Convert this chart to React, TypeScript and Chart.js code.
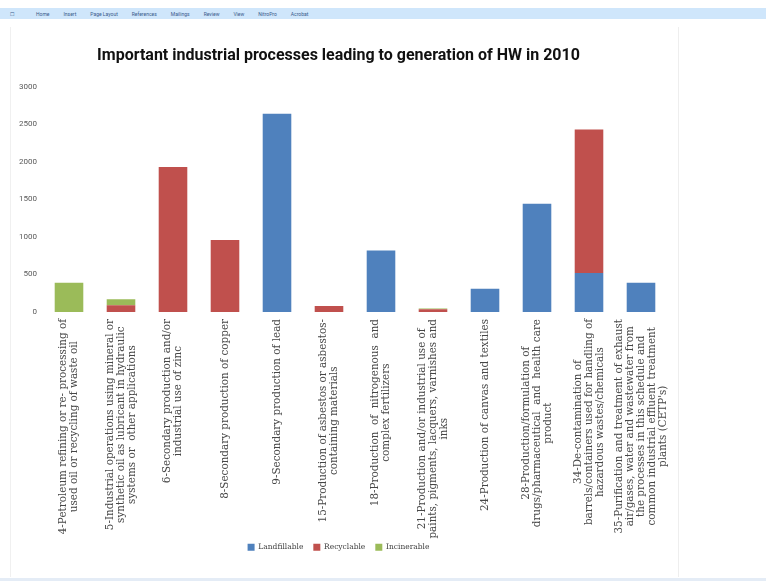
import React, { useEffect, useRef } from "react";
import { Chart, registerables } from "chart.js";

Chart.register(...registerables);

const TITLE = "Important industrial processes leading to generation of HW in 2010";

const categories: string[][] = [
  ["4-Petroleum refining or re- processing of", "used oil or recycling of waste oil"],
  ["5-Industrial operations using mineral or", "synthetic oil as lubricant in hydraulic", "systems or  other applications"],
  ["6-Secondary production and/or", "industrial use of zinc"],
  ["8-Secondary production of copper"],
  ["9-Secondary production of lead"],
  ["15-Production of asbestos or asbestos-", "containing materials"],
  ["18-Production  of  nitrogenous  and", "complex fertilizers"],
  ["21-Production and/or industrial use of", "paints, pigments, lacquers, varnishes and", "inks"],
  ["24-Production of canvas and textiles"],
  ["28-Production/formulation of", "drugs/pharmaceutical  and  health care", "product"],
  ["34-De-contamination of", "barrels/containers used for handling of", "hazardous wastes/chemicals"],
  ["35-Purification and treatment of exhaust", "air/gases, water and wastewater from", "the processes in this schedule and", "common industrial effluent treatment", "plants (CETP's)"],
];

const landfillable = [0, 0, 0, 0, 2640, 0, 820, 0, 310, 1440, 520, 390];
const recyclable = [0, 90, 1930, 960, 0, 80, 0, 35, 0, 0, 1910, 0];
const incinerable = [390, 80, 0, 0, 0, 0, 0, 10, 0, 0, 0, 0];

const seriesNames = ["Landfillable", "Recyclable", "Incinerable"];
const yTicks = [0, 500, 1000, 1500, 2000, 2500, 3000];

const LABEL_FONT = "10.4px 'DejaVu Serif'";
const LABEL_LINE = 11;
const LABEL_TOP_GAP = 7;

const xLabelPlugin = {
  id: "xLabelPlugin",
  afterDraw(chart: any) {
    const ctx = chart.ctx;
    const xs = chart.scales.x;
    const top = chart.chartArea.bottom + LABEL_TOP_GAP;
    ctx.save();
    ctx.font = LABEL_FONT;
    ctx.fillStyle = "#464646";
    ctx.textAlign = "center";
    ctx.textBaseline = "middle";
    (chart.data.labels as string[][]).forEach((lines, i) => {
      const x = xs.getPixelForTick(i);
      const widths = lines.map((l) => ctx.measureText(l).width);
      const maxW = Math.max(...widths);
      const n = lines.length;
      lines.forEach((line, j) => {
        const lx = x + (j - (n - 1) / 2) * LABEL_LINE;
        ctx.save();
        ctx.translate(lx, top + maxW / 2);
        ctx.rotate(-Math.PI / 2);
        ctx.fillText(line, 0, 0);
        ctx.restore();
      });
    });
    ctx.restore();
  },
};

export default function App() {
  const ref = useRef<HTMLCanvasElement>(null);
  useEffect(() => {
    if (!ref.current) return;
    const chart = new Chart(ref.current, {
      type: "bar",
      data: {
        labels: categories,
        datasets: [
          { label: seriesNames[0], data: landfillable, backgroundColor: "#4F81BD" },
          { label: seriesNames[1], data: recyclable, backgroundColor: "#C0504D" },
          { label: seriesNames[2], data: incinerable, backgroundColor: "#9BBB59" },
        ],
      },
      options: {
        animation: false,
        responsive: false,
        maintainAspectRatio: false,
        layout: { padding: { left: 10, right: 99, top: 35, bottom: 20 } },
        datasets: { bar: { categoryPercentage: 1, barPercentage: 0.55 } },
        scales: {
          x: {
            stacked: true,
            grid: { display: false, drawTicks: false },
            border: { display: false },
            ticks: { display: false },
            afterFit: (s: any) => { s.height = 221.5; },
          },
          y: {
            stacked: true,
            min: 0,
            max: 3000,
            afterBuildTicks: (s: any) => { s.ticks = yTicks.map((v) => ({ value: v })); },
            grid: { display: false, drawTicks: false },
            border: { display: false },
            ticks: {
              padding: 6,
              color: "#595959",
              font: { family: "Roboto", size: 8 },
              callback: (v: any) => String(v),
            },
            afterFit: (s: any) => { s.width = 33; },
          },
        },
        plugins: {
          title: {
            display: true,
            text: TITLE,
            color: "#111",
            font: { family: "Roboto", size: 16, weight: "bold" },
            padding: { top: 11.5, bottom: 21 },
          },
          legend: {
            position: "bottom",
            labels: {
              boxWidth: 7,
              boxHeight: 7,
              padding: 10,
              color: "#404040",
              font: { family: "DejaVu Serif", size: 7.5 },
            },
          },
          tooltip: { enabled: false },
        },
      },
      plugins: [xLabelPlugin],
    });
    return () => chart.destroy();
  }, []);

  return (
    <div style={{ position: "fixed", left: 0, top: 0, width: 766, height: 581, background: "#fff", overflow: "hidden" }}>
      <div style={{ position: "absolute", left: 0, top: 8, width: 766, height: 11, background: "#cfe6fb", display: "flex", alignItems: "center", fontFamily: "Roboto", fontSize: 5, color: "#3a5a8a", gap: 14, paddingLeft: 10, boxSizing: "border-box" }}>
        <span style={{ marginRight: 8 }}>☐</span>
        <span>Home</span><span>Insert</span><span>Page Layout</span><span>References</span><span>Mailings</span><span>Review</span><span>View</span><span>NitroPro</span><span>Acrobat</span>
      </div>
      <div style={{ position: "absolute", left: 10, top: 27, width: 1, height: 550, background: "#f0f0f0" }} />
      <div style={{ position: "absolute", left: 678, top: 27, width: 1, height: 550, background: "#eeeeee" }} />
      <div style={{ position: "absolute", left: 0, top: 578, width: 766, height: 3, background: "#e4ecf6" }} />
      <canvas ref={ref} width={766} height={581} style={{ position: "absolute", left: 0, top: 0 }} />
    </div>
  );
}
